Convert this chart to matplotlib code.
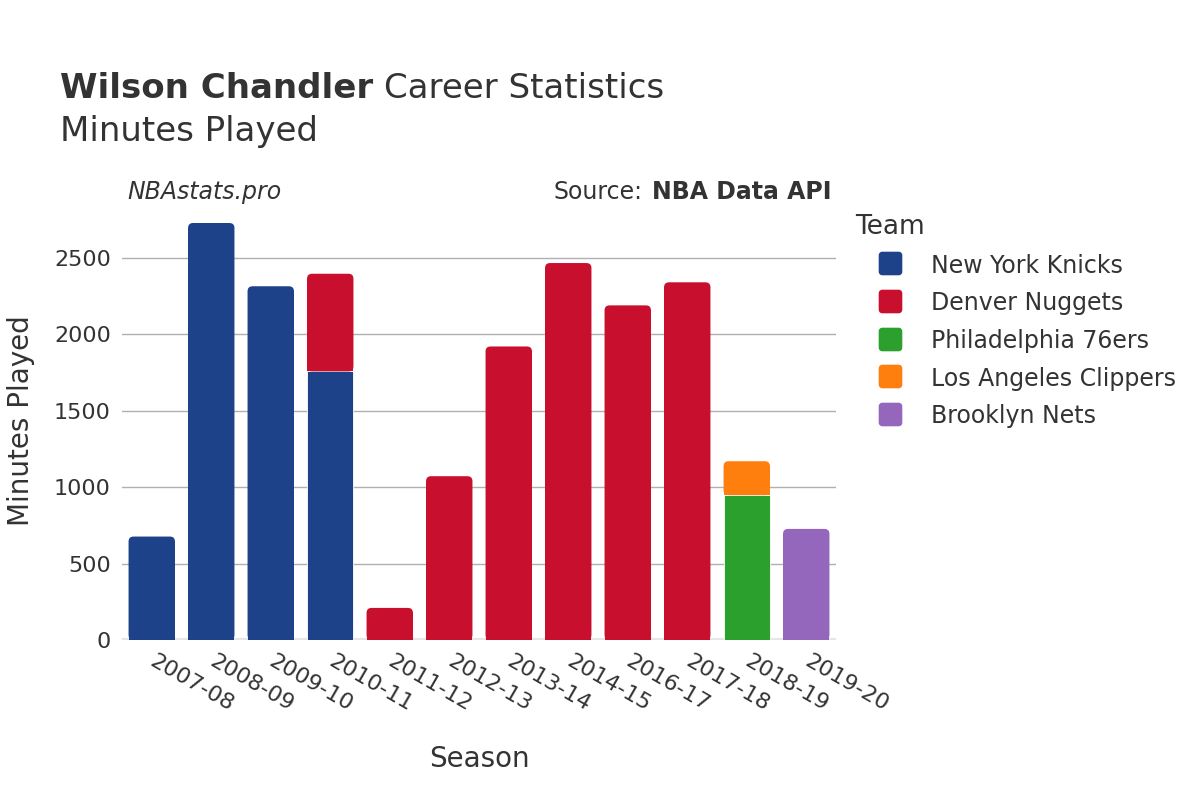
import matplotlib.pyplot as plt
from matplotlib.patches import FancyBboxPatch, Rectangle
from matplotlib.lines import Line2D
from matplotlib.path import Path
import numpy as np

plt.rcParams['font.family'] = ['DejaVu Sans']

seasons = ["2007-08", "2008-09", "2009-10", "2010-11", "2011-12", "2012-13",
           "2013-14", "2014-15", "2016-17", "2017-18", "2018-19", "2019-20"]
teams = ["New York Knicks", "Denver Nuggets", "Philadelphia 76ers",
         "Los Angeles Clippers", "Brooklyn Nets"]
team_colors = ["#1d428a", "#c8102e", "#2ca02c", "#ff7f0e", "#9467bd"]

# minutes per team per season (stacked in this order)
knicks = [677, 2729, 2315, 1758, 0, 0, 0, 0, 0, 0, 0, 0]
nuggets = [0, 0, 0, 639, 210, 1072, 1921, 2467, 2190, 2341, 0, 0]
sixers = [0, 0, 0, 0, 0, 0, 0, 0, 0, 0, 948, 0]
clippers = [0, 0, 0, 0, 0, 0, 0, 0, 0, 0, 222, 0]
nets = [0, 0, 0, 0, 0, 0, 0, 0, 0, 0, 0, 727]
minutes = [knicks, nuggets, sixers, clippers, nets]

text_color = "#333333"
ymax = 2873

fig = plt.figure(figsize=(12, 8), dpi=100)
ax_w, ax_h = 714, 439
ax = fig.add_axes([122 / 1200, 1 - 640 / 800, ax_w / 1200, ax_h / 800])
ax.set_xlim(-0.5, len(seasons) - 0.5)
ax.set_ylim(0, ymax)

# corner radius of bar tops, ~5px, in data units
rx = 5 / (ax_w / len(seasons))
ry = 5 / (ax_h / ymax)

x = np.arange(len(seasons))
bottom = np.zeros(len(seasons))
all_bars = []
for team, color, vals in zip(teams, team_colors, minutes):
    vals = np.array(vals, dtype=float)
    bars = ax.bar(x, vals, width=0.78, bottom=bottom, color=color,
                  edgecolor="white", linewidth=0.6, zorder=3)
    all_bars.append((bars, vals))
    bottom += vals

# replace the top segment of each stack with a rounded-top version
for i in range(len(seasons)):
    top = None
    for bars, vals in all_bars:
        if vals[i] > 0:
            top = bars[i]
    x0, y0 = top.get_x(), top.get_y()
    w, h = top.get_width(), top.get_height()
    color = top.get_facecolor()
    top.set_visible(False)
    ax.add_patch(FancyBboxPatch((x0, y0), w, h,
                                boxstyle=f"round,pad=0,rounding_size={rx}",
                                mutation_aspect=ry / rx, facecolor=color,
                                edgecolor="none", zorder=3))
    ax.add_patch(Rectangle((x0, y0), w, h - ry, facecolor=color,
                           edgecolor="none", zorder=3))

ax.set_yticks([0, 500, 1000, 1500, 2000, 2500])
ax.grid(axis="y", color="#b0b0b0", linewidth=1, zorder=0)
ax.axhline(0, color="#e6e6e6", linewidth=3, zorder=2)
for side in ax.spines.values():
    side.set_visible(False)
ax.tick_params(axis="both", length=0, labelsize=16, colors=text_color, pad=8)
ax.set_xticks(x)
ax.set_xticklabels(seasons, rotation=-30, ha="left", va="center",
                   rotation_mode="anchor")
ax.tick_params(axis="x", pad=14)

ax.set_xlabel("Season", fontsize=20, color=text_color, labelpad=22)
ax.set_ylabel("Minutes Played", fontsize=20, color=text_color, labelpad=14)

# title, two lines, first part bold
renderer = fig.canvas.get_renderer()
t1 = fig.text(60 / 1200, 1 - 88 / 800, "Wilson Chandler", fontsize=24.5,
              fontweight="bold", color=text_color, va="center")
bb = t1.get_window_extent(renderer)
fig.text(bb.x1 / 1200 + 0.009, 1 - 88 / 800, "Career Statistics", fontsize=24.5,
         color=text_color, va="center")
fig.text(60 / 1200, 1 - 132 / 800, "Minutes Played", fontsize=24.5,
         color=text_color, va="center")

fig.text(127 / 1200, 1 - 192 / 800, "NBAstats.pro", fontsize=17,
         style="italic", color=text_color, va="center")
s2 = fig.text(832 / 1200, 1 - 192 / 800, "NBA Data API", fontsize=17,
              fontweight="bold", color=text_color, va="center", ha="right")
bb2 = s2.get_window_extent(renderer)
fig.text(bb2.x0 / 1200 - 0.008, 1 - 192 / 800, "Source:", fontsize=17,
         color=text_color, va="center", ha="right")

# rounded square legend marker
t = np.linspace(0, np.pi / 2, 6)
r = 0.3
pts = []
for cx, cy, a0 in [(1 - r, 1 - r, 0), (-1 + r, 1 - r, np.pi / 2),
                   (-1 + r, -1 + r, np.pi), (1 - r, -1 + r, 1.5 * np.pi)]:
    for a in t + a0:
        pts.append((cx + r * np.cos(a), cy + r * np.sin(a)))
pts.append(pts[0])
rounded_square = Path(pts, closed=True)

handles = [Line2D([], [], marker=rounded_square, linestyle="none",
                  markersize=17, markerfacecolor=c, markeredgecolor="none")
           for c in team_colors]
leg = fig.legend(handles, teams, loc="upper left",
                 bbox_to_anchor=(855 / 1200, 1 - 214 / 800),
                 borderpad=0, borderaxespad=0,
                 frameon=False, fontsize=17, title="Team", title_fontsize=19,
                 handlelength=2.95, handleheight=1.0, handletextpad=0.25,
                 labelspacing=0.58, alignment="left")
for txt in leg.get_texts():
    txt.set_color(text_color)
leg.get_title().set_color(text_color)

fig.savefig("out.png", dpi=100)
